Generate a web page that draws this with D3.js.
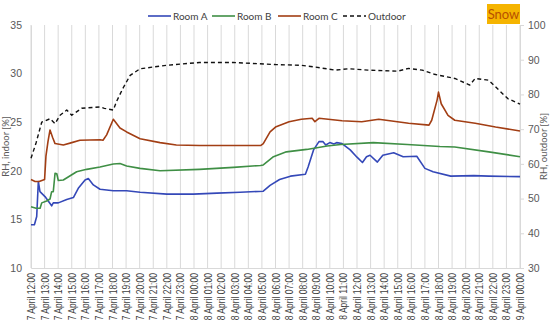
<!DOCTYPE html>
<html>
<head>
<meta charset="utf-8">
<script src="https://cdn.jsdelivr.net/npm/d3@7"></script>
<style>
  body { margin: 0; background: #fff; }
  svg { font-family: Lato, "Open Sans", sans-serif; }
</style>
</head>
<body>
<div id="chart"></div>
<script>
// hours since 7 April 12:00, value in %
const roomA = [
    [0, 14.45], [0.25, 14.45], [0.42, 15.3], [0.54, 18.9], [0.66, 17.85], [1.03, 17.35],
    [1.52, 16.4], [1.64, 16.7], [2.01, 16.7], [2.63, 17.05], [3.12, 17.25], [3.48, 18.2],
    [3.98, 19.05], [4.22, 19.2], [4.59, 18.55], [5.08, 18.1], [6.06, 17.95], [7.04, 17.95],
    [8.03, 17.8], [10.0, 17.6], [11.95, 17.6], [13.7, 17.7], [15.4, 17.8], [17.1, 17.9],
    [17.6, 18.5], [18.3, 19.1], [19.1, 19.45], [20.2, 19.65], [20.4, 20.4], [20.8, 22.15],
    [21.2, 23.0], [21.5, 23.0], [21.7, 22.65], [22.0, 22.9], [22.3, 22.75], [22.5, 22.9],
    [22.9, 22.8], [23.5, 22.15], [24.0, 21.4], [24.4, 20.85], [24.7, 21.45], [24.96, 21.6],
    [25.5, 20.9], [25.9, 21.6], [26.7, 21.85], [27.4, 21.45], [28.4, 21.5], [29.0, 20.25],
    [29.6, 19.9], [30.9, 19.45], [32.6, 19.5], [33.7, 19.45], [36, 19.4]
];
const roomB = [
    [0, 16.3], [0.37, 16.15], [0.67, 16.15], [0.79, 16.7], [1.15, 16.9], [1.4, 17.1],
    [1.52, 17.85], [1.64, 17.85], [1.77, 19.75], [1.9, 19.7], [2.01, 19.0], [2.38, 19.05],
    [3.36, 19.9], [4.1, 20.15], [5.08, 20.4], [6.06, 20.7], [6.55, 20.75], [7.04, 20.5],
    [8.03, 20.25], [9.5, 20.0], [12.4, 20.15], [14.9, 20.35], [16.9, 20.55], [17.1, 20.6],
    [17.85, 21.45], [18.8, 21.95], [20.3, 22.2], [21.8, 22.55], [22.8, 22.7], [25.2, 22.9],
    [27.7, 22.7], [30.1, 22.5], [31.2, 22.45], [33.7, 21.95], [36, 21.45]
];
const roomC = [
    [0, 19.1], [0.3, 18.9], [0.6, 18.9], [1.0, 19.1], [1.1, 21.5], [1.25, 23.0], [1.4, 24.2],
    [1.6, 23.4], [1.77, 22.8], [2.38, 22.65], [3.0, 22.9], [3.6, 23.15], [5.08, 23.2],
    [5.3, 23.15], [5.57, 23.7], [6.06, 25.3], [6.55, 24.4], [7.04, 24.0], [8.03, 23.3],
    [9.5, 22.9], [10.7, 22.65], [12.4, 22.6], [14.9, 22.6], [16.9, 22.6], [17.1, 22.8],
    [17.6, 24.0], [18.0, 24.5], [19.0, 25.05], [19.9, 25.3], [20.7, 25.4], [20.9, 25.05],
    [21.2, 25.4], [22.9, 25.15], [24.35, 25.05], [25.6, 25.3], [27.8, 24.9], [29.3, 24.7],
    [29.5, 25.2], [29.9, 27.3], [30.0, 28.1], [30.2, 26.9], [30.7, 25.7], [31.2, 25.2],
    [32.7, 24.9], [34.2, 24.5], [36, 24.1]
];
const outdoor = [
    [0, 61.6], [0.37, 66], [0.79, 72], [1.4, 73], [1.77, 71.6], [2.14, 74], [2.63, 75.5],
    [3.0, 74], [3.73, 76], [5.08, 76.4], [5.4, 76], [6.06, 75.5], [6.3, 78], [6.8, 82],
    [7.3, 85.5], [8.03, 87.4], [10.0, 88.4], [12.4, 89.2], [14.9, 89.2], [18.0, 88.6],
    [19.9, 88.4], [20.9, 87.9], [22.4, 87], [23.4, 87.4], [24.8, 87], [27.0, 86.7],
    [27.8, 87.5], [28.8, 87], [29.7, 85.8], [31.2, 84.6], [32.3, 82.7], [32.7, 84.6],
    [33.7, 84.1], [34.7, 80.3], [35.1, 78.8], [36, 77.2]
];

const leftTicks = [10, 15, 20, 25, 30, 35];
const rightTicks = [30, 40, 50, 60, 70, 80, 90, 100];
const hours = d3.range(0, 37);
const hourLabels = hours.map(h => {
    const day = 7 + Math.floor((h + 12) / 24);
    const hh = (h + 12) % 24;
    return day + " April " + String(hh).padStart(2, "0") + ":00";
});

const series = [
    { name: "Room A", data: roomA, color: "#3448b8", axis: "left" },
    { name: "Room B", data: roomB, color: "#3f8f45", axis: "left" },
    { name: "Room C", data: roomC, color: "#a23e14", axis: "left" },
    { name: "Outdoor", data: outdoor, color: "#111", axis: "right", dash: "4,3" }
];

const W = 550, H = 323;
const m = { left: 31, right: 30, top: 25, bottom: 55 };

const svg = d3.select("#chart").append("svg")
    .attr("width", W)
    .attr("height", H);

const x = d3.scaleLinear().domain([0, 36]).range([m.left, W - m.right]);
const yL = d3.scaleLinear().domain([10, 35]).range([H - m.bottom, m.top]);
const yR = d3.scaleLinear().domain([30, 100]).range([H - m.bottom, m.top]);

// vertical gridlines
svg.append("g")
    .selectAll("line")
    .data(hours)
    .join("line")
    .attr("x1", d => x(d)).attr("x2", d => x(d))
    .attr("y1", m.top).attr("y2", H - m.bottom)
    .attr("stroke", "#d9d9d9");

// bottom axis with rotated labels (squeezed to look like a narrow font)
const xAxis = svg.append("g")
    .attr("transform", `translate(0,${H - m.bottom})`)
    .call(d3.axisBottom(x).tickValues(hours).tickSize(0).tickFormat((d, i) => hourLabels[i]));
xAxis.select(".domain").attr("stroke", "#d9d9d9");
xAxis.selectAll("text")
    .attr("transform", "rotate(-90) scale(0.85,1)")
    .attr("text-anchor", "end")
    .attr("x", -6).attr("y", 0).attr("dy", "0.35em")
    .attr("fill", "#404040")
    .style("font-size", "10px");

// left axis
const left = svg.append("g")
    .attr("transform", `translate(${m.left},0)`)
    .call(d3.axisLeft(yL).tickValues(leftTicks).tickSize(0).tickPadding(9));
left.select(".domain").attr("stroke", "#d9d9d9");
left.selectAll("text").attr("fill", "#595959").style("font-size", "10.5px");

// right axis
const right = svg.append("g")
    .attr("transform", `translate(${W - m.right},0)`)
    .call(d3.axisRight(yR).tickValues(rightTicks).tickSize(4).tickPadding(4));
right.select(".domain").attr("stroke", "#d9d9d9");
right.selectAll("line").attr("stroke", "#d9d9d9");
right.selectAll("text").attr("fill", "#595959").style("font-size", "10.5px");

// axis titles
svg.append("text")
    .attr("transform", `translate(9,${(m.top + H - m.bottom) / 2}) rotate(-90)`)
    .attr("text-anchor", "middle")
    .attr("fill", "#595959")
    .style("font-size", "9.5px")
    .text("RH, indoor [%]");
svg.append("text")
    .attr("transform", `translate(547,${(m.top + H - m.bottom) / 2}) rotate(-90)`)
    .attr("text-anchor", "middle")
    .attr("fill", "#595959")
    .style("font-size", "9.5px")
    .text("RH, outdoor [%]");

// lines
series.forEach(s => {
    const yS = s.axis === "left" ? yL : yR;
    const line = d3.line().x(d => x(d[0])).y(d => yS(d[1]));
    svg.append("path")
        .datum(s.data)
        .attr("fill", "none")
        .attr("stroke", s.color)
        .attr("stroke-width", s.dash ? 1.4 : 1.6)
        .attr("stroke-dasharray", s.dash || null)
        .attr("stroke-linejoin", "round")
        .attr("d", line);
});

// legend
const legendX = [148, 212, 278, 343];
const leg = svg.append("g");
series.forEach((s, i) => {
    const g = leg.append("g").attr("transform", `translate(${legendX[i]},16)`);
    g.append("line")
        .attr("x1", 0).attr("x2", 23)
        .attr("stroke", s.color)
        .attr("stroke-width", s.dash ? 1.4 : 1.6)
        .attr("stroke-dasharray", s.dash || null);
    g.append("text")
        .attr("x", 25).attr("dy", "0.35em")
        .attr("fill", "#404040")
        .style("font-size", "10px")
        .text(s.name);
});

// snow badge
svg.append("rect")
    .attr("x", 487).attr("y", 4).attr("width", 33).attr("height", 20)
    .attr("fill", "#f5b400");
svg.append("text")
    .attr("x", 503.5).attr("y", 14.5).attr("dy", "0.35em")
    .attr("text-anchor", "middle")
    .attr("fill", "#b85000")
    .style("font-size", "13px")
    .text("Snow");
</script>
</body>
</html>
